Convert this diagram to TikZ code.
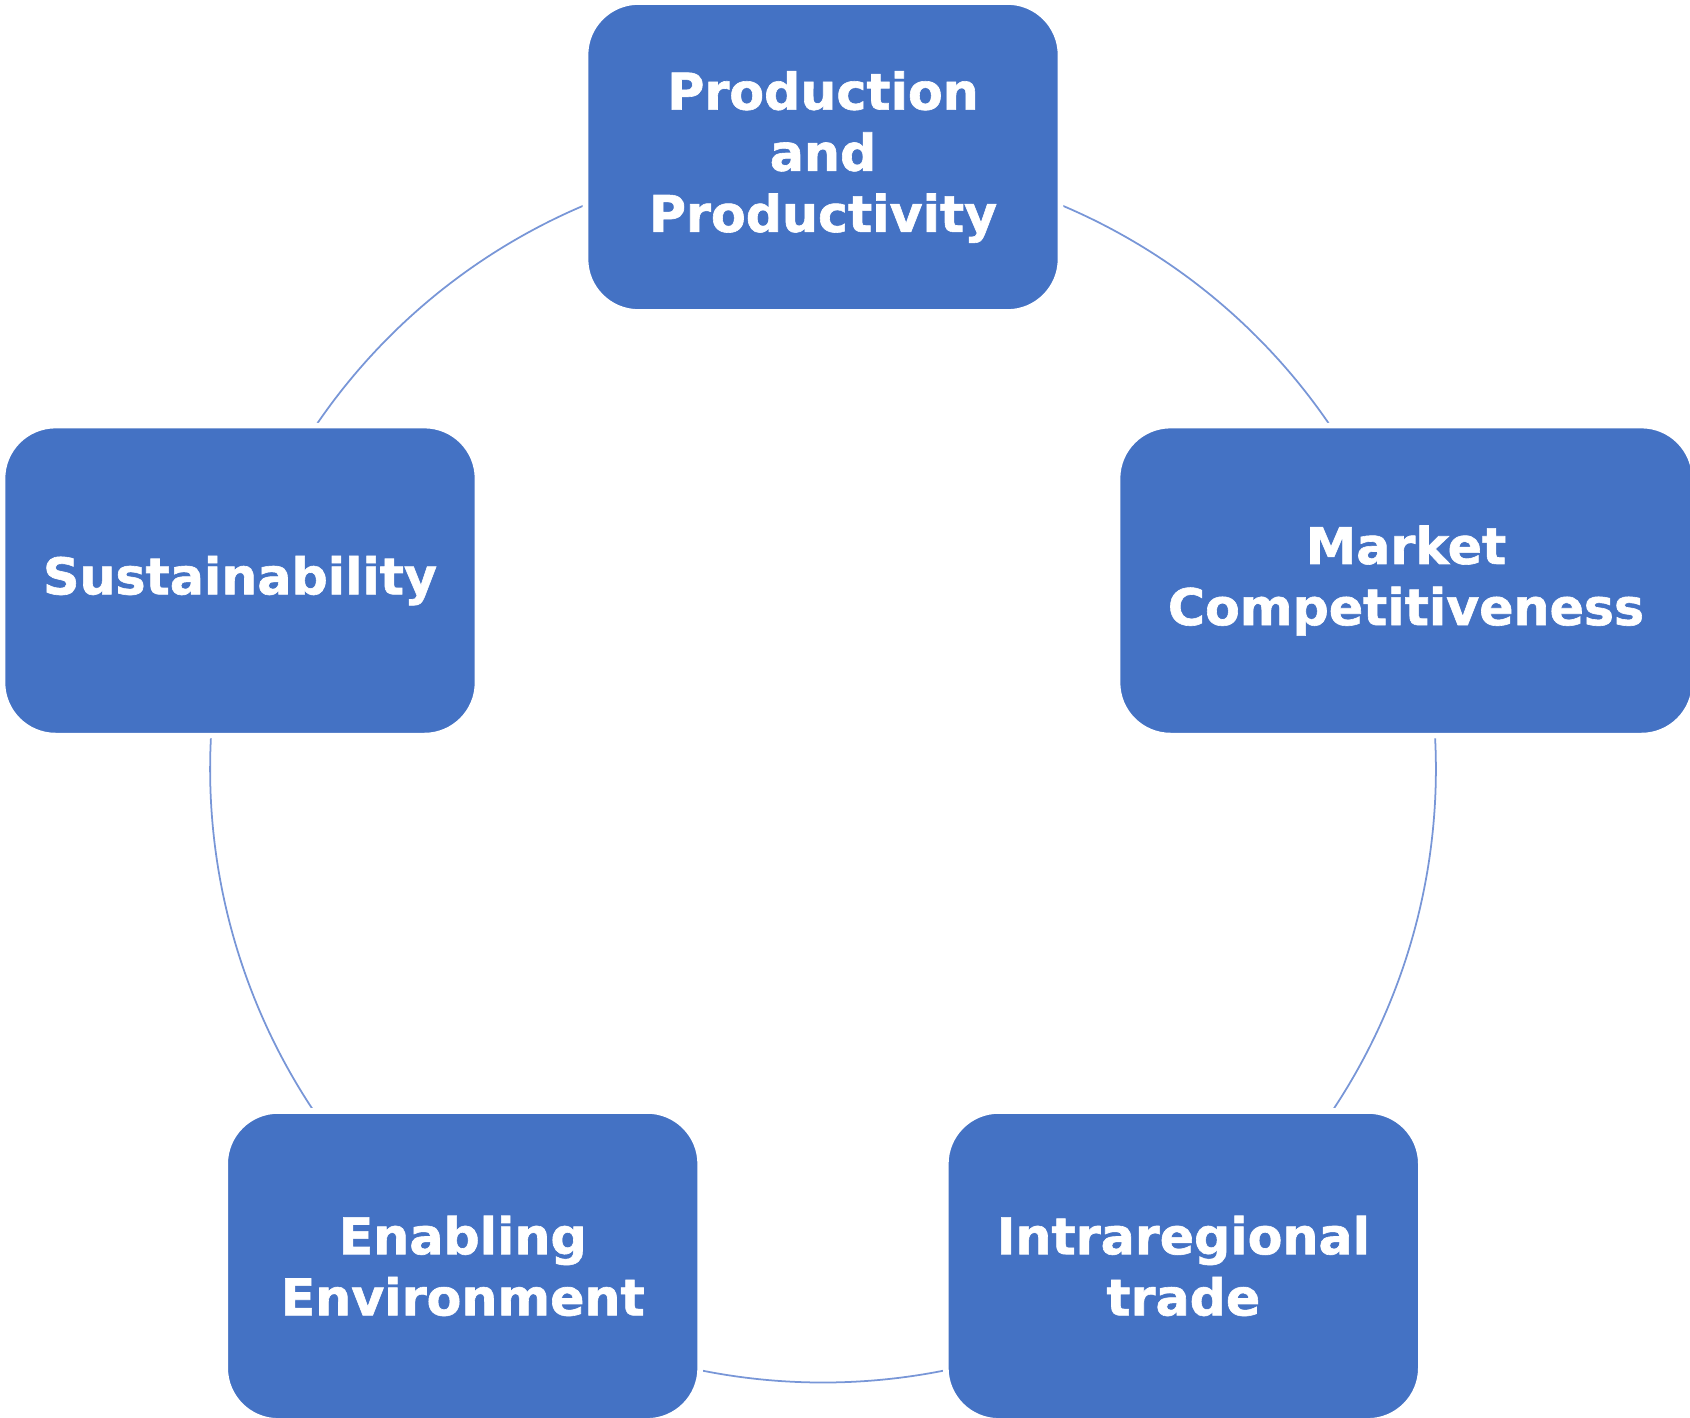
\documentclass[tikz,border=0pt]{standalone}
\usepackage{fontspec}
\setmainfont{DejaVu Sans}[BoldFeatures={FakeBold=1.2}]
\usepackage{tikz}
\usetikzlibrary{positioning,calc,backgrounds}
\definecolor{boxblue}{RGB}{68,114,196}
\definecolor{ringblue}{RGB}{120,150,215}
\tikzset{
    pillar/.style={
           rectangle,
           rounded corners=0.53cm,
           fill=boxblue, draw=white, line width=1.6pt,
           minimum width=4.75cm,
           minimum height=3.10cm,
           text=white,
           font=\bfseries\fontsize{14.4}{17.4}\selectfont,
           align=center,
           },
}

\begin{document}
\begin{tikzpicture}[ring/.style={draw=ringblue,line width=0.5pt,bend right=36,looseness=0.941}]
	\useasboundingbox (0,0) rectangle (16.9,14.17);
	\coordinate (C) at (8.23,6.47);

	\node[pillar] (prod)   at ($(C)+(90:6.13)$)  {Production\\and\\Productivity};
	\node[pillar] (sust)   at ($(C)+(162:6.13)$) {Sustainability};
	\node[pillar] (enab)   at ($(C)+(234:6.13)$) {Enabling\\Environment};
	\node[pillar] (trade)  at ($(C)+(306:6.13)$) {Intraregional\\trade};
	\node[pillar,minimum width=5.77cm] (market) at ($(C)+(18:6.13)$) {Market\\Competitiveness};

	% ring behind the boxes
	\begin{pgfonlayer}{background}
	\path (prod.center)   edge [ring] (sust.center);
	\path (sust.center)   edge [ring] (enab.center);
	\path (enab.center)   edge [ring] (trade.center);
	\path (trade.center)  edge [ring] (market.center);
	\path (market.center) edge [ring] (prod.center);
	\end{pgfonlayer}

\end{tikzpicture}
\end{document}
